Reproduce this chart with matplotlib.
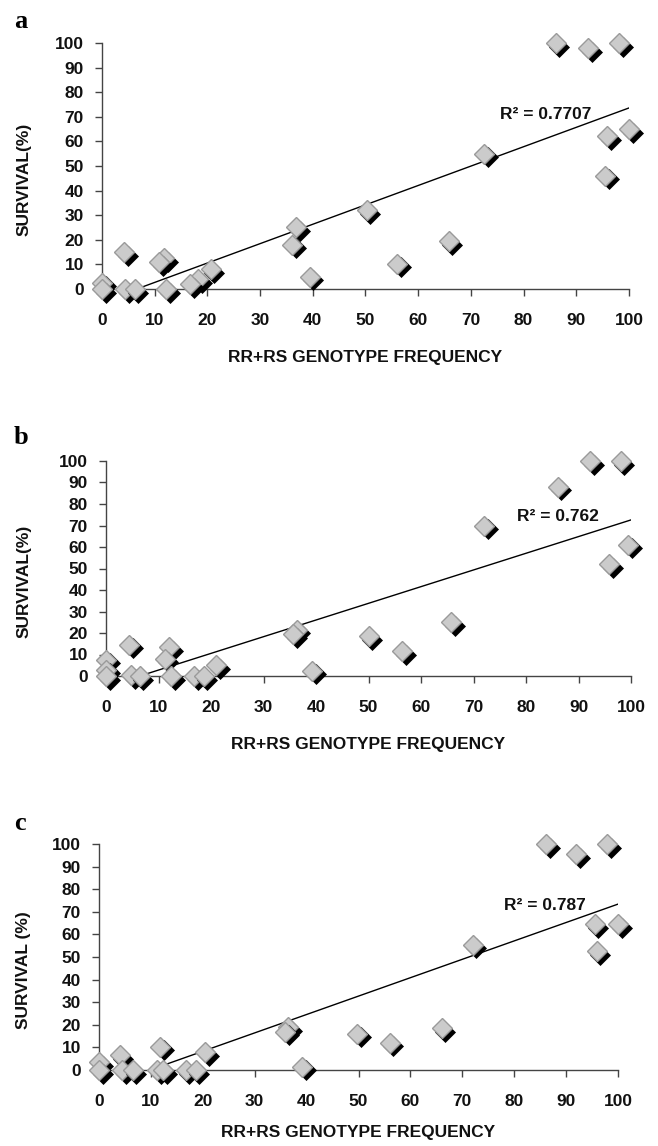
import numpy as np
import matplotlib
matplotlib.use("Agg")
import matplotlib.pyplot as plt
from matplotlib import transforms

# ---------------- data ----------------
a_x = [86.1, 92.3, 98.1, 100.0, 95.9, 95.5, 72.5, 50.2, 36.9, 36.1, 39.4, 65.8, 56.0,
       4.2, 11.8, 10.8, 20.6, 18.2, 16.7, 0.0, 0.0, 4.4, 6.2, 12.2]
a_y = [100, 98, 100, 65, 62, 46, 55, 32, 25, 18, 5, 19.5, 10.3,
       15, 12.5, 11, 8, 4, 2, 2.5, 0, 0, 0, 0]
b_x = [92.2, 98.0, 86.0, 72.0, 99.5, 95.8, 65.8, 50.0, 56.4, 36.3, 35.7, 39.3,
       4.4, 12.0, 11.2, 0.0, 0.0, 0.0, 4.8, 6.4, 12.4, 16.8, 18.6, 21.0]
b_y = [100, 100, 88, 70, 61, 52, 25, 18.5, 11.5, 21.5, 19.5, 2.5,
       14.5, 13.5, 8, 7.5, 3, 0, 0.5, 0, 0, 0, 0, 5]
c_x = [86.2, 92.0, 97.9, 95.5, 100.0, 95.9, 72.0, 49.8, 56.0, 66.0, 36.5, 35.9, 39.1,
       11.8, 20.5, 4.0, 0.0, 0.0, 4.5, 6.5, 11.2, 12.4, 16.7, 18.6]
c_y = [100, 95.5, 100, 64.5, 64.5, 52.5, 55.5, 16, 12, 18.5, 19, 17, 1.5,
       10.3, 8, 6.5, 3.5, 0, 0, 0, 0, 0, 0, 0]
# linear trendlines as drawn in the chart (slope, intercept)
trend_slope = [0.788, 0.776, 0.814]
trend_intercept = [-5.2, -5.0, -8.0]
r2_labels = ["R\u00b2 = 0.7707", "R\u00b2 = 0.762", "R\u00b2 = 0.787"]
panel_letters = ["a", "b", "c"]
ylabels = ["SURVIVAL(%)", "SURVIVAL(%)", "SURVIVAL (%)"]
xlabel = "RR+RS GENOTYPE FREQUENCY"
ticks = [0, 10, 20, 30, 40, 50, 60, 70, 80, 90, 100]

# ---------------- layout ----------------
W, H = 658, 1146
fig = plt.figure(figsize=(W / 100, H / 100), dpi=100)
# (x0 px, x100 px, y0 px, y100 px)
boxes = [(102, 629, 289, 43), (106, 631, 676, 461), (99, 618, 1070, 844)]
r2_pos = [(75.5, 71), (78.2, 74), (78.0, 73)]
letter_y = [22, 438, 823]
xlabel_pads = [16, 16, 12]

FONT = ['Liberation Sans', 'DejaVu Sans']
SPINE = '#444444'
TXT = '#111111'
FS = 12.5

datasets = [(a_x, a_y), (b_x, b_y), (c_x, c_y)]
for i, ((xs, ys), (x0, x1, y0, y1)) in enumerate(zip(datasets, boxes)):
    ax = fig.add_axes([x0 / W, 1 - y0 / H, (x1 - x0) / W, (y0 - y1) / H])
    ax.set_xlim(0, 100)
    ax.set_ylim(0, 100)
    for s in ['top', 'right']:
        ax.spines[s].set_visible(False)
    for s in ['left', 'bottom']:
        ax.spines[s].set_color(SPINE)
        ax.spines[s].set_linewidth(1.0)
    ax.set_xticks(ticks)
    ax.set_yticks(ticks)
    ax.tick_params(direction='out', length=5, width=1.0, color=SPINE)
    ax.tick_params(axis='x', pad=12)
    ax.tick_params(axis='y', pad=8)
    for lab in ax.get_xticklabels() + ax.get_yticklabels():
        lab.set_family(FONT)
        lab.set_fontweight('bold')
        lab.set_fontsize(FS)
        lab.set_color(TXT)

    # trendline
    xl = np.array([0.0, 100.0])
    ax.plot(xl, trend_slope[i] * xl + trend_intercept[i], color='black', lw=1.0, zorder=3)

    shadow = transforms.offset_copy(ax.transData, fig=fig, x=2.6, y=-2.6, units='points')
    z = 4
    for px, py in zip(xs, ys):
        ax.plot([px], [py], marker='D', ms=10, mfc='black', mec='black', mew=0.5,
                ls='none', transform=shadow, clip_on=False, zorder=z)
        ax.plot([px], [py], marker='D', ms=10, mfc='#cbcbcb', mec='#9a9a9a', mew=1.0,
                ls='none', clip_on=False, zorder=z + 1)
        z += 2

    tx, ty = r2_pos[i]
    ax.text(tx, ty, r2_labels[i], family=FONT, fontweight='bold', fontsize=FS,
            color=TXT, va='center', ha='left', zorder=100)

    ax.set_xlabel(xlabel, family=FONT, fontweight='bold', fontsize=FS, color=TXT,
                  labelpad=xlabel_pads[i])

    ymid = 1 - ((y0 + y1) / 2 + 13) / H
    fig.text(24 / W, ymid, ylabels[i], family=FONT, fontweight='bold', fontsize=FS,
             color=TXT, rotation=90, ha='center', va='center')

    fig.text(14 / W, 1 - letter_y[i] / H, panel_letters[i],
             family=['Liberation Serif', 'DejaVu Serif'],
             fontweight='bold', fontsize=19, va='center', ha='left')

fig.savefig('out.png', dpi=100)
